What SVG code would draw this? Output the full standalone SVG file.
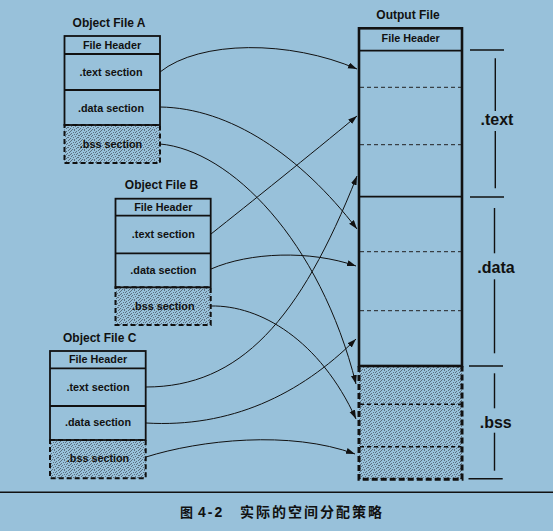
<svg xmlns="http://www.w3.org/2000/svg" width="553" height="531" viewBox="0 0 553 531">
<style>
.bg{fill:#98c1da}
.t{font-family:"Liberation Sans","Noto Sans CJK SC",sans-serif;font-weight:bold;fill:#111;text-anchor:middle}
.title{font-size:12px}
.sec{font-size:10.8px}
.big{font-size:16px}
.box{fill:none;stroke:#111;stroke-width:1.8}
.bss{fill:url(#dots);stroke:#111;stroke-width:2;stroke-dasharray:5 3}
.sep{stroke:#111;stroke-width:1.8}
.dash{stroke:#222;stroke-width:1;stroke-dasharray:4 3}
.dashb{stroke:#111;stroke-width:1.6;stroke-dasharray:4 3}
.conn{fill:none;stroke:#111;stroke-width:1;marker-end:url(#arr)}
.br{stroke:#111;stroke-width:1.4}
</style>
<defs>
<marker id="arr" markerUnits="userSpaceOnUse" markerWidth="10" markerHeight="7" refX="9" refY="3" orient="auto">
<path d="M0,0 L9,3 L0,6 z" fill="#111"/>
</marker>
<pattern id="dots" width="10" height="10" patternUnits="userSpaceOnUse">
<rect width="10" height="10" fill="#98c1da"/>
<g fill="#5b6f80">
<rect x="1" y="0" width="1" height="1"/><rect x="4" y="0" width="1" height="1"/><rect x="8" y="0" width="1" height="1"/>
<rect x="0" y="1" width="1" height="1"/><rect x="6" y="1" width="1" height="1"/>
<rect x="3" y="2" width="1" height="1"/><rect x="5" y="2" width="1" height="1"/><rect x="9" y="2" width="1" height="1"/>
<rect x="1" y="3" width="1" height="1"/><rect x="7" y="3" width="1" height="1"/>
<rect x="0" y="4" width="1" height="1"/><rect x="4" y="4" width="1" height="1"/><rect x="6" y="4" width="1" height="1"/>
<rect x="2" y="5" width="1" height="1"/><rect x="8" y="5" width="1" height="1"/><rect x="9" y="5" width="1" height="1"/>
<rect x="1" y="6" width="1" height="1"/><rect x="5" y="6" width="1" height="1"/>
<rect x="3" y="7" width="1" height="1"/><rect x="7" y="7" width="1" height="1"/><rect x="8" y="7" width="1" height="1"/>
<rect x="0" y="8" width="1" height="1"/><rect x="6" y="8" width="1" height="1"/>
<rect x="2" y="9" width="1" height="1"/><rect x="4" y="9" width="1" height="1"/><rect x="9" y="9" width="1" height="1"/>
</g>
</pattern>
</defs>
<rect class="bg" x="0" y="0" width="553" height="531"/>

<g id="file-a">
<text class="t title" x="109" y="26.5">Object File A</text>
<rect class="bss" x="64.5" y="125" width="95.5" height="38"/>
<rect class="box" x="64.5" y="36" width="95.5" height="89"/>
<line class="sep" x1="64.5" y1="54" x2="160" y2="54"/>
<line class="sep" x1="64.5" y1="90" x2="160" y2="90"/>
<text class="t sec" x="112" y="49">File Header</text>
<text class="t sec" x="111" y="75.7">.text section</text>
<text class="t sec" x="111" y="111.8">.data section</text>
<text class="t sec" x="111" y="147.5">.bss section</text>
</g>

<g id="file-b">
<text class="t title" x="161.5" y="189">Object File B</text>
<rect class="bss" x="115.5" y="287.3" width="95.2" height="37.7"/>
<rect class="box" x="115.5" y="198.7" width="95.2" height="88.6"/>
<line class="sep" x1="115.5" y1="215.7" x2="210.7" y2="215.7"/>
<line class="sep" x1="115.5" y1="253.3" x2="210.7" y2="253.3"/>
<text class="t sec" x="163.3" y="211">File Header</text>
<text class="t sec" x="163.3" y="237.7">.text section</text>
<text class="t sec" x="163.3" y="274">.data section</text>
<text class="t sec" x="163.3" y="310">.bss section</text>
</g>

<g id="file-c">
<text class="t title" x="99.7" y="341.5">Object File C</text>
<rect class="bss" x="50" y="440" width="95.7" height="38.3"/>
<rect class="box" x="50" y="351" width="95.7" height="89"/>
<line class="sep" x1="50" y1="368.3" x2="145.7" y2="368.3"/>
<line class="sep" x1="50" y1="406" x2="145.7" y2="406"/>
<text class="t sec" x="98" y="363">File Header</text>
<text class="t sec" x="98" y="391">.text section</text>
<text class="t sec" x="98" y="426">.data section</text>
<text class="t sec" x="98" y="461.5">.bss section</text>
</g>

<g id="output-file">
<text class="t title" x="408" y="19">Output File</text>
<rect x="359" y="366" width="103" height="113.3" fill="url(#dots)"/>
<path d="M359,366 V479.3 H462 V366" fill="none" stroke="#111" stroke-width="3" stroke-dasharray="6 3"/>
<rect x="359" y="28.3" width="103" height="337.7" fill="none" stroke="#111" stroke-width="2.6"/>
<line class="sep" x1="359" y1="50.7" x2="462" y2="50.7" stroke-width="2.2"/>
<line class="sep" x1="359" y1="196.7" x2="462" y2="196.7" stroke-width="2.2"/>
<line class="dash" x1="360" y1="87.3" x2="461" y2="87.3"/>
<line class="dash" x1="360" y1="144.7" x2="461" y2="144.7"/>
<line class="dash" x1="360" y1="251.7" x2="461" y2="251.7"/>
<line class="dash" x1="360" y1="310.7" x2="461" y2="310.7"/>
<line class="dashb" x1="360" y1="404.3" x2="461" y2="404.3"/>
<line class="dashb" x1="360" y1="446.7" x2="461" y2="446.7"/>
<text class="t sec" x="410.7" y="42.3">File Header</text>
</g>

<g id="brackets">
<line class="br" x1="470" y1="50" x2="504" y2="50"/>
<line class="br" x1="470" y1="197" x2="504" y2="197"/>
<line class="br" x1="469" y1="366" x2="503" y2="366"/>
<line class="br" x1="468.5" y1="478.7" x2="502.7" y2="478.7"/>
<line class="br" x1="495.3" y1="58.3" x2="495.3" y2="111"/>
<line class="br" x1="495.3" y1="131" x2="495.3" y2="188.3"/>
<line class="br" x1="494.5" y1="208" x2="494.5" y2="253.3"/>
<line class="br" x1="494.5" y1="279.3" x2="494.5" y2="353.3"/>
<line class="br" x1="494.5" y1="373.3" x2="494.5" y2="408.3"/>
<line class="br" x1="494.5" y1="432.7" x2="494.5" y2="470.7"/>
<text class="t big" x="497" y="125">.text</text>
<text class="t big" x="496" y="273">.data</text>
<text class="t big" x="495.7" y="428">.bss</text>
</g>

<g id="connectors">
<path class="conn" d="M160,72 C200,40 290,40 357,69"/>
<path class="conn" d="M160,107 C230,108 300,155 357,229"/>
<path class="conn" d="M160,144 C230,150 320,240 356,384"/>
<path class="conn" d="M211,234 C250,203 310,155 357,116"/>
<path class="conn" d="M211,269 C250,252 310,250 356,266"/>
<path class="conn" d="M211,306 C260,305 320,340 356,419"/>
<path class="conn" d="M146,387 C240,387 300,320 357,176"/>
<path class="conn" d="M146,423 C230,428 300,395 356,339"/>
<path class="conn" d="M146,457 C200,440 290,430 355,454"/>
</g>

<g id="caption">
<line x1="0" y1="492.3" x2="553" y2="492.3" stroke="#111" stroke-width="1.5"/>
<text class="t" style="font-size:14px;text-anchor:start" y="516.5"><tspan x="180" style="font-size:13px">图</tspan><tspan x="198" style="letter-spacing:2px">4-2</tspan><tspan x="240" style="letter-spacing:2px">实际的空间分配策略</tspan></text>
</g>
</svg>
